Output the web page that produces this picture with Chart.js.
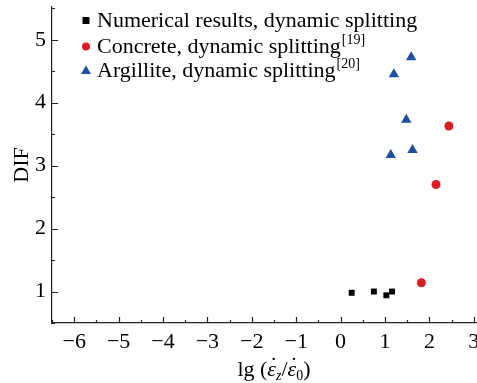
<!DOCTYPE html>
<html>
<head>
<meta charset="utf-8">
<script src="https://cdn.jsdelivr.net/npm/chart.js@4.4.1/dist/chart.umd.min.js"></script>
<style>
    html, body { margin: 0; padding: 0; background: #fff; }
    #wrap { width: 477px; height: 383px; position: relative; }
</style>
</head>
<body>
<div id="wrap"><canvas id="difChart"></canvas></div>
<script>
const xTicks = [-6, -5, -4, -3, -2, -1, 0, 1, 2, 3];
const yTicks = [1, 2, 3, 4, 5];

const numX = [0.25, 0.75, 1.03, 1.16];
const numY = [0.98, 1.0, 0.94, 1.0];
const concX = [1.82, 2.15, 2.44];
const concY = [1.14, 2.70, 3.63];
const argX = [1.13, 1.20, 1.48, 1.59, 1.62];
const argY = [3.17, 4.45, 3.73, 4.72, 3.25];

const legendLabels = ['Numerical results, dynamic splitting', 'Concrete, dynamic splitting', 'Argillite, dynamic splitting'];
const legendRefs = ['', '[19]', '[20]'];

const RED = '#dc1c24';
const BLUE = '#1f4f9f';
const SERIF = '"Liberation Serif", "Times New Roman", serif';

function pts(xs, ys) {
    return xs.map((x, i) => ({ x: x, y: ys[i] }));
}

function noPad(s) {
    s.paddingLeft = 0;
    s.paddingRight = 0;
    s.paddingTop = 0;
    s.paddingBottom = 0;
}

// inward major/minor ticks, legend and x title
const extras = {
    id: 'extras',
    afterDraw(chart) {
        const ctx = chart.ctx;
        const xs = chart.scales.x;
        const ys = chart.scales.y;
        const area = chart.chartArea;
        ctx.save();
        ctx.strokeStyle = '#222';
        ctx.lineWidth = 1.2;
        ctx.beginPath();
        for (let v = -6.5; v <= 3; v += 0.5) {
            const px = Math.round(xs.getPixelForValue(v)) + 0.5;
            const len = Number.isInteger(v) ? 6 : 3;
            ctx.moveTo(px, area.bottom);
            ctx.lineTo(px, area.bottom - len);
        }
        for (let v = 0.5; v <= 5.5; v += 0.5) {
            const py = Math.round(ys.getPixelForValue(v)) + 0.5;
            const len = Number.isInteger(v) ? 6 : 3;
            ctx.moveTo(area.left, py);
            ctx.lineTo(area.left + len, py);
        }
        ctx.stroke();

        // legend
        const lx = 86, tx = 97;
        const rows = [20, 46, 70];
        ctx.textBaseline = 'middle';
        ctx.textAlign = 'left';
        rows.forEach((y, i) => {
            if (i === 0) {
                ctx.fillStyle = '#000';
                ctx.fillRect(lx - 3.5, y - 3, 7, 7);
            } else if (i === 1) {
                ctx.fillStyle = RED;
                ctx.beginPath();
                ctx.arc(lx, y + 0.5, 4, 0, Math.PI * 2);
                ctx.fill();
            } else {
                ctx.fillStyle = BLUE;
                ctx.beginPath();
                ctx.moveTo(lx, y - 4.5);
                ctx.lineTo(lx + 5, y + 4);
                ctx.lineTo(lx - 5, y + 4);
                ctx.closePath();
                ctx.fill();
            }
            ctx.fillStyle = '#000';
            ctx.font = '22px ' + SERIF;
            ctx.fillText(legendLabels[i], tx, y + 1);
            if (legendRefs[i]) {
                const w = ctx.measureText(legendLabels[i]).width;
                ctx.font = '14px ' + SERIF;
                ctx.fillText(legendRefs[i], tx + w + 1, y - 6);
            }
        });

        // x axis title: lg (ε̇z/ε̇0)
        const ty = 376;
        const parts = [
            { t: 'lg (', f: '22px ' + SERIF, dy: 0 },
            { t: 'ε', f: 'italic 22px ' + SERIF, dy: 0, dot: true },
            { t: 'z', f: 'italic 14px ' + SERIF, dy: 4 },
            { t: '/', f: '22px ' + SERIF, dy: 0 },
            { t: 'ε', f: 'italic 22px ' + SERIF, dy: 0, dot: true },
            { t: '0', f: '14px ' + SERIF, dy: 4 },
            { t: ')', f: '22px ' + SERIF, dy: 0 }
        ];
        let total = 0;
        parts.forEach(p => { ctx.font = p.f; p.w = ctx.measureText(p.t).width; total += p.w; });
        let cx = 274 - total / 2;
        ctx.textBaseline = 'alphabetic';
        parts.forEach(p => {
            ctx.font = p.f;
            ctx.fillText(p.t, cx, ty + p.dy);
            if (p.dot) {
                ctx.font = '22px ' + SERIF;
                ctx.textAlign = 'center';
                ctx.fillText('\u02D9', cx + p.w / 2 + 2, ty - 4);
                ctx.textAlign = 'left';
            }
            cx += p.w;
        });
        ctx.restore();
    }
};

new Chart(document.getElementById('difChart'), {
    type: 'scatter',
    data: {
        datasets: [
            {
                label: legendLabels[0],
                data: pts(numX, numY),
                pointStyle: 'rect',
                pointRadius: 4.2,
                backgroundColor: '#000',
                borderColor: '#000',
                borderWidth: 0
            },
            {
                label: legendLabels[1],
                data: pts(concX, concY),
                pointStyle: 'circle',
                pointRadius: 4.5,
                backgroundColor: RED,
                borderColor: RED,
                borderWidth: 0
            },
            {
                label: legendLabels[2],
                data: pts(argX, argY),
                pointStyle: 'triangle',
                pointRadius: 6,
                backgroundColor: BLUE,
                borderColor: BLUE,
                borderWidth: 0
            }
        ]
    },
    options: {
        responsive: true,
        maintainAspectRatio: false,
        animation: false,
        layout: { autoPadding: false, padding: { top: 7, right: 1, left: 0, bottom: 0 } },
        plugins: {
            legend: { display: false },
            tooltip: { enabled: false }
        },
        scales: {
            x: {
                type: 'linear',
                min: -6.5,
                max: 3.05,
                afterBuildTicks: s => { s.ticks = xTicks.map(v => ({ value: v })); },
                afterFit: s => { s.height = 60; noPad(s); },
                grid: { display: true, drawOnChartArea: false, drawTicks: false },
                border: { display: true, color: '#222', width: 1.2 },
                ticks: {
                    padding: 6,
                    color: '#000',
                    font: { family: SERIF, size: 22 },
                    maxRotation: 0,
                    callback: v => String(v).replace('-', '\u2212')
                }
            },
            y: {
                type: 'linear',
                min: 0.5,
                max: 5.52,
                afterBuildTicks: s => { s.ticks = yTicks.map(v => ({ value: v })); },
                afterFit: s => { s.width = 52; noPad(s); },
                grid: { display: true, drawOnChartArea: false, drawTicks: false },
                border: { display: true, color: '#222', width: 1.2 },
                title: {
                    display: true,
                    text: 'DIF',
                    color: '#000',
                    font: { family: SERIF, size: 22 },
                    padding: { top: 9, bottom: 0 }
                },
                ticks: {
                    padding: 6,
                    color: '#000',
                    font: { family: SERIF, size: 22 }
                }
            }
        }
    },
    plugins: [extras]
});
</script>
</body>
</html>
